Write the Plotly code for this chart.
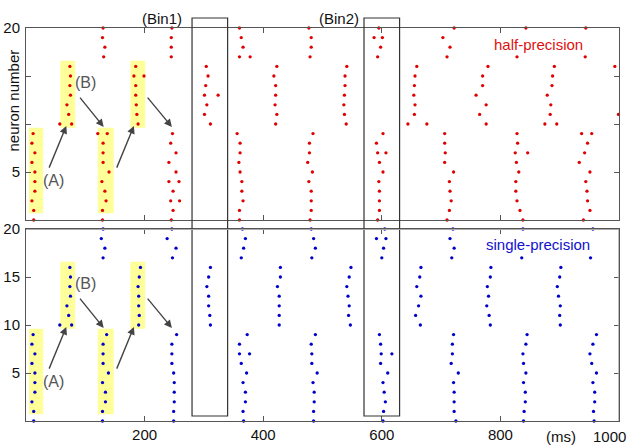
import plotly.graph_objects as go

# ---------------- data (spike times in ms, per neuron 0..20) ----------------
neurons = list(range(21))

half_spikes = [
    [13, 129, 245, 360, 479, 593, 710, 838, 940],                 # 0
    [13, 129, 248, 360, 481, 596, 714, 833, 951],                 # 1
    [10, 135, 244, 259, 366, 481, 596, 717, 828, 947],            # 2
    [15, 133, 248, 364, 481, 596, 715, 826, 946],                 # 3
    [15, 128, 241, 258, 364, 477, 595, 714, 826, 944],            # 4
    [15, 140, 253, 361, 483, 602, 721, 831, 951],                 # 5
    [10, 130, 241, 359, 475, 596, 706, 827, 933],                 # 6
    [15, 130, 253, 361, 478, 593, 607, 707, 825, 846, 942],       # 7
    [10, 130, 244, 361, 478, 591, 706, 829, 947],                 # 8
    [12, 121, 137, 247, 356, 484, 602, 706, 828, 937, 954],       # 9
    [57, 77, 189, 311, 421, 540, 644, 676, 776, 875, 895],        # 10
    [72, 187, 301, 423, 537, 655, 765, 884, 999],                 # 11
    [69, 186, 305, 420, 536, 656, 776, 885],                      # 12
    [75, 185, 301, 324, 421, 537, 654, 759, 879],                 # 13
    [74, 185, 303, 421, 538, 655, 770, 887],                      # 14
    [75, 182, 199, 307, 418, 538, 656, 770, 888],                 # 15
    [74, 185, 304, 423, 541, 659, 779, 891, 993],                 # 16
    [131, 245, 360, 378, 479, 593, 710, 828, 943],                # 17
    [133, 245, 366, 481, 598, 715],                               # 18
    [129, 245, 363, 481, 587, 601, 703],                          # 19
    [130, 246, 360, 477, 595, 722, 843, 944],                     # 20
]

single_spikes = [
    [13, 129, 249, 367, 485, 602, 725, 839, 958],                 # 0
    [13, 129, 249, 366, 485, 603, 722, 840, 957],                 # 1
    [10, 134, 250, 370, 486, 606, 722, 842, 959],                 # 2
    [15, 134, 250, 370, 486, 604, 722, 842, 959],                 # 3
    [15, 129, 250, 366, 484, 602, 721, 839, 956],                 # 4
    [15, 139, 249, 372, 491, 610, 729, 843, 962],                 # 5
    [10, 130, 246, 363, 482, 598, 717, 839, 954],                 # 6
    [15, 130, 246, 360, 377, 482, 599, 617, 719, 838, 951],       # 7
    [10, 130, 246, 360, 481, 598, 719, 843, 956],                 # 8
    [12, 136, 254, 373, 488, 596, 721, 845, 962],                 # 9
    [57, 77, 190, 311, 427, 547, 665, 783, 901],                  # 10
    [72, 191, 310, 427, 544, 657, 781, 900],                      # 11
    [69, 190, 308, 427, 545, 662, 777, 901],                      # 12
    [75, 190, 308, 427, 543, 666, 780, 898],                      # 13
    [74, 189, 305, 424, 541, 659, 778, 896],                      # 14
    [75, 191, 308, 429, 545, 664, 783, 900],                      # 15
    [74, 193, 311, 429, 548, 666, 784, 902],                      # 16
    [130, 247, 363, 482, 600, 718, 836, 952],                     # 17
    [133, 253, 367, 488, 603, 722],                               # 18
    [127, 238, 370, 485, 591, 607, 715],                          # 19
    [130, 246, 365, 481, 605, 720, 838, 956],                     # 20
]

x_tick_vals = [200, 400, 600, 800, 1000]
x_tick_text = ["200", "400", "600", "800", "1000"]
y_tick_vals = [5, 10, 15, 20]
y_tick_text = ["5", "10", "15", "20"]

# bin windows (ms) and their label centres (ms)
bin_ranges = [(280, 340), (570, 630)]
bin_labels = ["(Bin1)", "(Bin2)"]
bin_label_x = [230, 528]
# yellow highlight boxes (ms range, neuron range)
highlight_boxes = [(5, 29, 0.7, 9.6), (58, 83, 9.6, 16.6),
                   (121, 148, 0.7, 9.6), (176, 201, 9.6, 16.6)]
# arrows: tail (ms, neuron) -> head (ms, neuron)
arrows = [((38, 5.3), (68, 9.8)), ((89, 12.9), (131, 9.7)),
          ((152, 5.3), (182, 9.8)), ((203, 12.9), (246, 9.7))]
group_labels = [("(A)", 46, 4.1), ("(B)", 100, 14.3)]

# ---------------- figure ----------------
W, H = 628, 448
ML, MR, MT, MB = 25.5, 9, 28, 27
plot_h = H - MT - MB
top_dom = [(421 - 220) / plot_h, 1.0]
bot_dom = [0.0, (421 - 229) / plot_h]

FONT = "Liberation Sans, Arial, Helvetica, sans-serif"
RED = "#e00000"
BLUE = "#0000cc"


def flatten(spikes):
    xs, ys = [], []
    for n, times in zip(neurons, spikes):
        for t in times:
            xs.append(t)
            ys.append(n)
    return xs, ys


fig = go.Figure()
hx, hy = flatten(half_spikes)
sx, sy = flatten(single_spikes)
fig.add_trace(go.Scatter(x=hx, y=hy, mode="markers", xaxis="x", yaxis="y",
                         marker=dict(color=RED, size=3.3), cliponaxis=False,
                         showlegend=False))
fig.add_trace(go.Scatter(x=sx, y=sy, mode="markers", xaxis="x2", yaxis="y2",
                         marker=dict(color=BLUE, size=3.3), cliponaxis=False,
                         showlegend=False))

axis_common = dict(showgrid=False, zeroline=False, showline=True,
                   linecolor="#555555", linewidth=1, ticks="inside",
                   ticklen=5, tickcolor="#555555", mirror="ticks",
                   automargin=False,
                   tickfont=dict(family=FONT, size=15, color="#111111"))

fig.update_layout(
    width=W, height=H,
    margin=dict(l=ML, r=MR, t=MT, b=MB, pad=0, autoexpand=False),
    paper_bgcolor="white", plot_bgcolor="white",
    xaxis=dict(domain=[0, 1], range=[0, 1000], anchor="y",
               tickvals=x_tick_vals, showticklabels=False, **axis_common),
    yaxis=dict(domain=top_dom, range=[0, 20], anchor="x",
               tickvals=y_tick_vals,
               ticktext=[t if t in ("5", "20") else "" for t in y_tick_text],
               ticklabelstandoff=2, **axis_common),
    xaxis2=dict(domain=[0, 1], range=[0, 1000], anchor="y2",
                tickvals=x_tick_vals,
                ticktext=x_tick_text[:-1] + [""], **axis_common),
    yaxis2=dict(domain=bot_dom, range=[0, 20], anchor="x2",
                tickvals=y_tick_vals, ticktext=y_tick_text,
                ticklabelstandoff=2, **axis_common),
)

shapes = []
for (x0, x1, y0, y1) in highlight_boxes:
    for xr, yr in (("x", "y"), ("x2", "y2")):
        shapes.append(dict(type="rect", xref=xr, yref=yr, x0=x0, x1=x1,
                           y0=y0, y1=y1, fillcolor="#ffff99",
                           line=dict(width=0), layer="below"))
for (b0, b1) in bin_ranges:
    shapes.append(dict(type="rect", xref="x", yref="paper", x0=b0, x1=b1,
                       y0=(421 - 416) / plot_h, y1=(421 - 18) / plot_h,
                       line=dict(color="#333333", width=1.2),
                       fillcolor="rgba(0,0,0,0)", layer="above"))
# light grey top/right border of the lower panel
shapes.append(dict(type="line", xref="x2", yref="y2", x0=0, x1=1000, y0=20,
                   y1=20, line=dict(color="#aaaaaa", width=2), layer="above"))
shapes.append(dict(type="line", xref="x2", yref="y2", x0=1000, x1=1000,
                   y0=0, y1=20, line=dict(color="#aaaaaa", width=1.5),
                   layer="above"))
fig.update_layout(shapes=shapes)

ann = []
for (tail, head) in arrows:
    for xr, yr in (("x", "y"), ("x2", "y2")):
        ann.append(dict(xref=xr, yref=yr, axref=xr, ayref=yr,
                        x=head[0], y=head[1], ax=tail[0], ay=tail[1],
                        text="", showarrow=True, arrowhead=2, arrowsize=1.1,
                        arrowwidth=1.4, arrowcolor="#444444", standoff=0))
for (lab, lx, ly) in group_labels:
    for xr, yr in (("x", "y"), ("x2", "y2")):
        ann.append(dict(xref=xr, yref=yr, x=lx, y=ly, text=lab,
                        showarrow=False,
                        font=dict(family=FONT, size=16, color="#555555")))
for lab, lx in zip(bin_labels, bin_label_x):
    ann.append(dict(xref="x", yref="paper", x=lx,
                    y=(421 - 18) / plot_h, text=lab, showarrow=False,
                    xanchor="center", yanchor="middle",
                    font=dict(family=FONT, size=15, color="#111111")))
ann.append(dict(xref="x", yref="y", x=865, y=18.3, text="half-precision",
                showarrow=False, bgcolor="white",
                font=dict(family=FONT, size=15, color="#dd1111")))
ann.append(dict(xref="x2", yref="y2", x=864, y=18.4, text="single-precision",
                showarrow=False, bgcolor="white",
                font=dict(family=FONT, size=15, color="#1111cc")))
ann.append(dict(xref="paper", yref="paper", x=(12 - ML) / (W - ML - MR),
                y=(421 - 101) / plot_h, text="neuron number", textangle=-90,
                showarrow=False, xanchor="center", yanchor="middle",
                font=dict(family=FONT, size=15, color="#111111")))
ann.append(dict(xref="x2", yref="paper", x=x_tick_vals[-1], xshift=-10,
                y=(421 - 436) / plot_h, text=x_tick_text[-1], showarrow=False,
                xanchor="center", yanchor="middle",
                font=dict(family=FONT, size=15, color="#111111")))
ann.append(dict(xref="x2", yref="paper", x=903, y=(421 - 436) / plot_h,
                text="(ms)", showarrow=False, xanchor="center",
                yanchor="middle",
                font=dict(family=FONT, size=15, color="#111111")))
fig.update_layout(annotations=ann)

fig.write_html("out.html",
               config={"displayModeBar": False},
               post_script="document.body.style.margin='0';"
                           "document.body.style.overflow='hidden';")
